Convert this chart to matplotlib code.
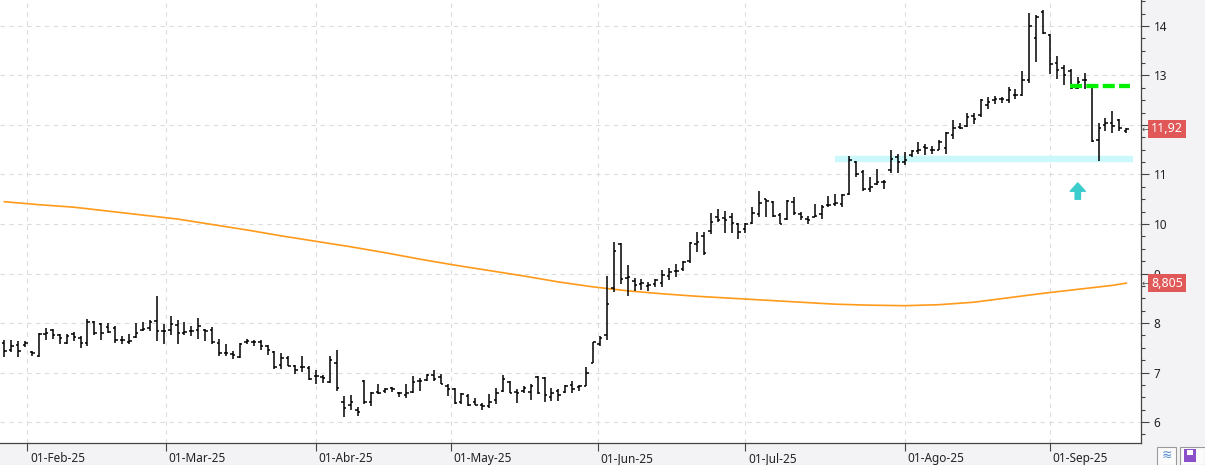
import numpy as np
import pandas as pd
import matplotlib
matplotlib.use("Agg")
import matplotlib.pyplot as plt
import matplotlib.transforms as mtransforms
from matplotlib.ticker import MultipleLocator
from matplotlib.patches import Rectangle

plt.rcParams['font.family'] = ['Noto Sans', 'DejaVu Sans']

# trading calendar (Spanish market holidays removed)
holidays = ["2025-04-18", "2025-04-21", "2025-05-01"]
month_labels = ["01-Feb-25", "01-Mar-25", "01-Abr-25", "01-May-25",
                "01-Jun-25", "01-Jul-25", "01-Ago-25", "01-Sep-25"]
# right axis labels; 12 sits under the last-price tag in the original
price_ticks = [6, 7, 8, 9, 10, 11, 12, 13, 14]
price_labels = ["6", "7", "8", "9", "10", "11", "", "13", "14"]

opens = [
    7.60, 7.45, 7.55, 7.55, 7.42, 7.33, 7.78, 7.85, 7.75, 7.60,
    7.78, 7.70, 7.60, 8.03, 7.98, 7.92, 7.90, 7.65, 7.62, 7.72,
    7.85, 7.90, 8.05, 7.83, 7.85, 7.95, 7.80, 7.83, 7.85, 7.85,
    7.85, 7.60, 7.40, 7.38, 7.32, 7.62, 7.62, 7.62, 7.53, 7.42,
    7.15, 7.30, 7.13, 7.12, 7.10, 6.92, 6.90, 6.80, 7.19, 6.40,
    6.35, 6.25, 6.82, 6.40, 6.60, 6.62, 6.68, 6.58, 6.55, 6.60,
    6.82, 6.85, 6.95, 6.90, 6.72, 6.66, 6.40, 6.52, 6.40, 6.35,
    6.33, 6.45, 6.62, 6.80, 6.60, 6.62, 6.60, 6.90, 6.88, 6.50,
    6.62, 6.60, 6.75, 6.70, 6.72, 7.19, 7.58, 7.75, 8.70, 9.60,
    8.90, 8.85, 8.78, 8.75, 8.78, 8.80, 8.95, 9.05, 9.10, 9.25,
    9.60, 9.75, 9.85, 10.15, 10.12, 10.15, 10.00, 9.90, 10.03, 10.20,
    10.50, 10.45, 10.18, 10.10, 10.45, 10.20, 10.10, 10.15, 10.20, 10.38,
    10.40, 10.40, 10.60, 11.25, 11.05, 10.70, 10.80, 10.85, 11.10, 11.35,
    11.25, 11.40, 11.48, 11.55, 11.50, 11.50, 11.53, 11.80, 11.95, 11.98,
    12.18, 12.20, 12.40, 12.50, 12.52, 12.50, 12.60, 12.60, 12.90, 13.75,
    14.28, 13.82, 13.25, 13.15, 13.10, 12.75, 12.90, 12.76, 11.70, 12.00,
    12.05, 12.10, 11.88]
highs = [
    7.66, 7.66, 7.63, 7.64, 7.44, 7.80, 7.90, 7.88, 7.78, 7.78,
    7.82, 7.73, 8.08, 8.05, 8.00, 8.00, 7.93, 7.73, 7.78, 8.00,
    8.02, 8.07, 8.55, 7.97, 8.15, 8.07, 8.02, 7.93, 8.10, 7.88,
    7.92, 7.68, 7.58, 7.43, 7.60, 7.68, 7.66, 7.66, 7.56, 7.43,
    7.39, 7.33, 7.16, 7.33, 7.14, 7.06, 6.94, 7.34, 7.46, 6.52,
    6.54, 6.30, 6.84, 6.60, 6.76, 6.69, 6.71, 6.60, 6.76, 6.92,
    6.89, 6.96, 7.06, 6.96, 6.76, 6.69, 6.59, 6.56, 6.49, 6.39,
    6.56, 6.69, 6.94, 6.82, 6.66, 6.72, 6.76, 6.92, 6.90, 6.69,
    6.66, 6.74, 6.82, 6.74, 7.12, 7.61, 7.73, 8.95, 9.64, 9.61,
    9.17, 8.90, 8.88, 8.82, 8.88, 9.08, 9.12, 9.19, 9.26, 9.64,
    9.84, 9.84, 10.22, 10.30, 10.27, 10.22, 10.03, 10.03, 10.34, 10.66,
    10.50, 10.47, 10.22, 10.49, 10.55, 10.25, 10.16, 10.41, 10.39, 10.57,
    10.61, 10.61, 11.37, 11.28, 11.10, 10.95, 11.12, 10.88, 11.49, 11.41,
    11.46, 11.50, 11.65, 11.61, 11.57, 11.69, 11.86, 12.10, 12.04, 12.25,
    12.25, 12.52, 12.57, 12.58, 12.56, 12.76, 12.72, 13.10, 14.27, 14.22,
    14.32, 13.84, 13.39, 13.21, 13.14, 12.96, 13.06, 12.76, 12.04, 12.15,
    12.29, 12.13, 11.93]
lows = [
    7.32, 7.42, 7.32, 7.52, 7.34, 7.31, 7.65, 7.68, 7.58, 7.58,
    7.63, 7.50, 7.53, 7.75, 7.65, 7.80, 7.60, 7.58, 7.58, 7.70,
    7.83, 7.83, 7.63, 7.58, 7.76, 7.58, 7.75, 7.73, 7.68, 7.63,
    7.58, 7.34, 7.34, 7.28, 7.29, 7.58, 7.53, 7.46, 7.35, 7.07,
    7.08, 7.13, 6.96, 7.02, 6.84, 6.76, 6.79, 6.79, 6.62, 6.11,
    6.24, 6.12, 6.37, 6.32, 6.57, 6.58, 6.61, 6.51, 6.49, 6.59,
    6.62, 6.82, 6.82, 6.76, 6.52, 6.37, 6.37, 6.32, 6.34, 6.25,
    6.29, 6.37, 6.61, 6.58, 6.39, 6.58, 6.44, 6.56, 6.40, 6.42,
    6.42, 6.59, 6.59, 6.62, 6.72, 7.19, 7.53, 7.65, 8.63, 8.78,
    8.54, 8.65, 8.66, 8.65, 8.72, 8.72, 8.86, 8.92, 9.05, 9.22,
    9.44, 9.37, 9.80, 10.05, 9.81, 9.81, 9.69, 9.81, 10.01, 10.14,
    10.14, 10.14, 10.00, 10.09, 10.18, 10.09, 10.00, 10.14, 10.11, 10.34,
    10.36, 10.35, 10.59, 10.95, 10.67, 10.65, 10.78, 10.70, 11.03, 11.03,
    11.19, 11.36, 11.42, 11.39, 11.41, 11.49, 11.42, 11.71, 11.91, 11.96,
    12.03, 12.17, 12.33, 12.42, 12.45, 12.45, 12.52, 12.58, 12.84, 13.28,
    13.83, 13.04, 12.92, 12.81, 12.72, 12.72, 12.72, 11.66, 11.28, 11.88,
    11.83, 11.88, 11.83]
closes = [
    7.44, 7.53, 7.43, 7.60, 7.39, 7.78, 7.80, 7.75, 7.70, 7.73,
    7.71, 7.60, 8.02, 7.80, 7.80, 7.81, 7.66, 7.65, 7.63, 7.80,
    7.88, 8.03, 7.83, 7.83, 7.97, 7.80, 7.81, 7.83, 7.93, 7.83,
    7.61, 7.39, 7.39, 7.36, 7.58, 7.63, 7.61, 7.53, 7.46, 7.12,
    7.29, 7.14, 7.06, 7.12, 6.87, 6.92, 6.89, 7.26, 6.69, 6.29,
    6.40, 6.20, 6.40, 6.58, 6.59, 6.67, 6.66, 6.59, 6.59, 6.81,
    6.82, 6.94, 6.86, 6.76, 6.66, 6.39, 6.56, 6.34, 6.35, 6.32,
    6.40, 6.59, 6.86, 6.59, 6.58, 6.69, 6.72, 6.58, 6.54, 6.59,
    6.54, 6.72, 6.66, 6.72, 7.00, 7.61, 7.69, 8.38, 9.46, 8.88,
    8.92, 8.76, 8.80, 8.76, 8.86, 8.97, 9.03, 9.05, 9.24, 9.61,
    9.64, 9.42, 10.05, 10.09, 10.09, 10.03, 9.84, 10.00, 10.22, 10.43,
    10.47, 10.16, 10.01, 10.47, 10.22, 10.14, 10.09, 10.16, 10.34, 10.39,
    10.42, 10.59, 11.30, 11.02, 10.70, 10.75, 10.85, 10.85, 11.32, 11.26,
    11.29, 11.48, 11.50, 11.53, 11.49, 11.66, 11.83, 11.93, 11.93, 12.17,
    12.13, 12.50, 12.47, 12.52, 12.53, 12.71, 12.60, 12.91, 13.99, 14.18,
    13.85, 13.23, 13.11, 13.01, 12.74, 12.87, 12.91, 11.67, 11.93, 12.04,
    11.98, 11.93, 11.92]

# moving average, read every 5 sessions
ma_idx = [0, 5, 10, 15, 20, 25, 30, 35, 40, 45, 50, 55, 60, 65, 70, 75, 80,
          85, 90, 95, 100, 105, 110, 115, 120, 125, 130, 135, 140, 145, 150,
          155, 160, 162]
ma_val = [10.45, 10.39, 10.34, 10.26, 10.18, 10.10, 9.99, 9.88, 9.76, 9.65,
          9.54, 9.42, 9.29, 9.17, 9.06, 8.95, 8.83, 8.73, 8.65, 8.59, 8.54,
          8.50, 8.46, 8.42, 8.38, 8.36, 8.35, 8.37, 8.42, 8.51, 8.60, 8.68,
          8.76, 8.805]

support = 11.32          # cyan band
support_span = (119.9, 163.0)
resistance = 12.78       # green dashed
resistance_span = (153.9, 162.5)
arrow_at = 155
arrow_span = (10.50, 10.83)

days = pd.bdate_range("2025-01-28", "2025-09-16")
days = days[~days.isin(pd.to_datetime(holidays))]
x = np.arange(len(days))
month_starts = pd.date_range("2025-02-01", "2025-09-01", freq="MS")
day_ord = np.array([d.toordinal() for d in days])
month_pos = np.interp([d.toordinal() for d in month_starts], day_ord, x)

fig = plt.figure(figsize=(12.05, 4.65), dpi=100, facecolor='#f3f3f5')
ax = fig.add_axes([0, 22 / 465, 1141 / 1205, 443 / 465])
ax.set_facecolor('white')

ax.hlines(support, *support_span, color='#cbf8fa', lw=4.6, zorder=1)
ax.plot(ma_idx, ma_val, color='#ff9a1a', lw=1.2, zorder=2)

ax.vlines(x, lows, highs, color='black', lw=1.1, zorder=3)
ax.hlines(opens, x - 0.36, x, color='black', lw=1.1, zorder=3)
ax.hlines(closes, x, x + 0.36, color='black', lw=1.1, zorder=3)

ax.plot(resistance_span, [resistance, resistance], color='#00f000', lw=3.1,
        ls=(0, (2.8, 1.0)), zorder=4)
ax.annotate('', xy=(arrow_at, arrow_span[1]), xytext=(arrow_at, arrow_span[0]),
            arrowprops=dict(arrowstyle='simple,head_length=0.5,head_width=0.9,tail_width=0.32',
                            color='#3ccccc', shrinkA=0, shrinkB=0, mutation_scale=12))

ax.set_xlim(-0.635, 164.13)
ax.set_ylim(5.576, 14.525)

ax.set_yticks(price_ticks, price_labels)
ax.yaxis.set_minor_locator(MultipleLocator(0.25))
ax.yaxis.tick_right()
ax.tick_params(axis='y', which='major', length=6, width=0.8, color='#444',
               labelcolor='#222', labelsize=8.5, pad=3)
ax.tick_params(axis='y', which='minor', length=3, width=0.8, color='#444')

ax.set_xticks(month_pos, month_labels)
ax.tick_params(axis='x', length=6, width=0.8, color='#444', labelcolor='#222',
               labelsize=8.5, pad=0.5)
shift = mtransforms.ScaledTranslation(2 / 72, 0, fig.dpi_scale_trans)
for lab in ax.get_xticklabels():
    lab.set_horizontalalignment('left')
    lab.set_transform(lab.get_transform() + shift)

ax.grid(True, which='major', color='#dcdcdc', ls=(0, (4, 4)), lw=0.8)
ax.set_axisbelow(True)
for s in ['left', 'top']:
    ax.spines[s].set_visible(False)
for s in ['right', 'bottom']:
    ax.spines[s].set_color('#444')
    ax.spines[s].set_linewidth(0.9)

# last-value tags on the price axis
trans = mtransforms.blended_transform_factory(ax.transAxes, ax.transData)
for val, txt in [(closes[-1], "11,92"), (ma_val[-1], "8,805")]:
    ax.text(1.0 + 10 / 1141, val, txt, transform=trans, ha='left', va='center',
            color='white', fontsize=9, clip_on=False, zorder=6,
            bbox=dict(boxstyle='square,pad=0.22', fc='#e05858', ec='none'))
    ax.text(1.0 + 1 / 1141, val, '←', transform=trans, ha='left', va='center',
            color='#555', fontsize=6.5, clip_on=False, zorder=6,
            family='DejaVu Sans')

# small toolbar buttons at the lower right
fig.add_artist(Rectangle((1157 / 1205, 0.5 / 465), 19 / 1205, 18 / 465,
                         transform=fig.transFigure, fc='#fbfbfb', ec='#9a9a9a', lw=0.8))
fig.text(1166.5 / 1205, 9.5 / 465, '≋', ha='center', va='center', color='#5b8fd0',
         fontsize=9, family='DejaVu Sans')
fig.add_artist(Rectangle((1180 / 1205, 0.5 / 465), 25 / 1205, 18 / 465,
                         transform=fig.transFigure, fc='#fbfbfb', ec='#9a9a9a', lw=0.8))
fig.add_artist(Rectangle((1184 / 1205, 3 / 465), 12 / 1205, 13 / 465,
                         transform=fig.transFigure, fc='#8a4fc9', ec='none'))
fig.add_artist(Rectangle((1187 / 1205, 10 / 465), 6 / 1205, 5 / 465,
                         transform=fig.transFigure, fc='white', ec='none'))

fig.savefig("out.png", dpi=100, facecolor=fig.get_facecolor())
